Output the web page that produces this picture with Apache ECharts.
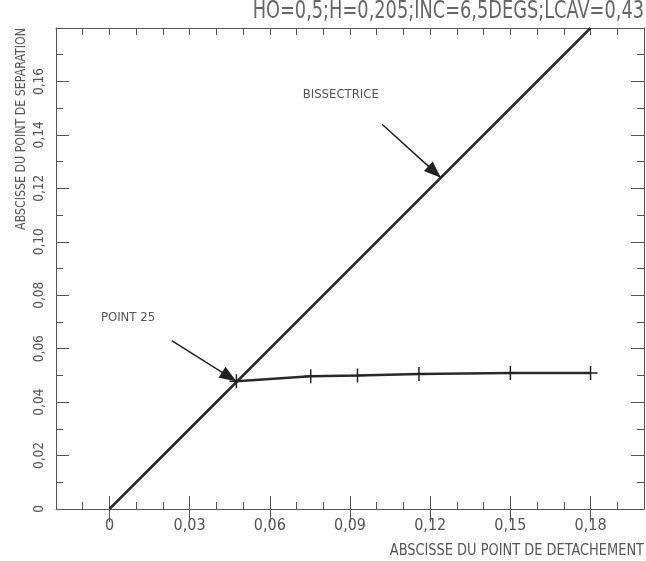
<!DOCTYPE html>
<html>
<head>
<meta charset="utf-8">
<script src="https://cdn.jsdelivr.net/npm/echarts@6/dist/echarts.min.js"></script>
<style>
  html, body { margin: 0; padding: 0; background: #fff; }
  #chart { width: 646px; height: 561px; }
</style>
</head>
<body>
<div id="chart"></div>
<script>
// valeurs
var xMajor = [0, 0.03, 0.06, 0.09, 0.12, 0.15, 0.18];
var bisX = [0, 0.18];
var bisY = [0, 0.18];
var sepX = [0.0475, 0.0753, 0.0928, 0.1158, 0.150, 0.180];
var sepY = [0.0478, 0.0497, 0.0500, 0.0505, 0.0509, 0.0509];
// annotations (coordonnees en unites du graphe)
var arrowBis = [[0.102, 0.144], [0.124, 0.124]];
var arrowPt = [[0.0233, 0.063], [0.0475, 0.0478]];
var labelBis = [0.0723, 0.1552];
var labelPt = [-0.0032, 0.0716];

var font = '"DejaVu Sans Condensed", "Liberation Sans Narrow", sans-serif';
var ink = '#555';

function fmt(v) {
    if (Math.abs(v) < 1e-9) return '0';
    return v.toFixed(2).replace('.', ',');
}

var mychart = echarts.init(document.getElementById('chart'));

var option = {
    animation: false,
    backgroundColor: '#fff',
    grid: {left: 56, right: 2, top: 28, bottom: 52},
    xAxis: [
        {
            type: 'value', position: 'bottom', min: -0.02, max: 0.2, interval: 0.01,
            axisLine: {show: true, onZero: false, lineStyle: {color: ink, width: 1}},
            axisTick: {inside: true, length: 7, lineStyle: {color: ink}},
            axisLabel: {
                customValues: xMajor, formatter: fmt, margin: 9,
                fontFamily: font, fontSize: 16, color: '#555'
            },
            splitLine: {show: false}
        },
        {
            type: 'value', position: 'bottom', min: -0.02, max: 0.2,
            axisLine: {show: false},
            axisTick: {inside: true, length: 13, customValues: xMajor, lineStyle: {color: ink}},
            axisLabel: {show: false},
            splitLine: {show: false}
        },
        {
            type: 'value', position: 'top', min: -0.02, max: 0.2, interval: 0.01,
            axisLine: {show: true, onZero: false, lineStyle: {color: ink, width: 1}},
            axisTick: {inside: true, length: 7, lineStyle: {color: ink}},
            axisLabel: {show: false},
            splitLine: {show: false}
        },
        {
            type: 'value', position: 'top', min: -0.02, max: 0.2,
            axisLine: {show: false},
            axisTick: {inside: true, length: 13, customValues: xMajor, lineStyle: {color: ink}},
            axisLabel: {show: false},
            splitLine: {show: false}
        }
    ],
    yAxis: [
        {
            type: 'value', position: 'left', min: 0, max: 0.18, interval: 0.02,
            axisLine: {show: true, onZero: false, lineStyle: {color: ink, width: 1}},
            axisTick: {inside: true, length: 13, lineStyle: {color: ink}},
            minorTick: {show: true, splitNumber: 2, length: 7, lineStyle: {color: ink}},
            axisLabel: {
                rotate: 90, margin: 10, showMaxLabel: false, formatter: fmt,
                fontFamily: font, fontSize: 13.5, color: '#555'
            },
            splitLine: {show: false}
        },
        {
            type: 'value', position: 'right', min: 0, max: 0.18, interval: 0.02,
            axisLine: {show: true, onZero: false, lineStyle: {color: ink, width: 1}},
            axisTick: {inside: true, length: 13, lineStyle: {color: ink}},
            minorTick: {show: true, splitNumber: 2, length: 7, lineStyle: {color: ink}},
            axisLabel: {show: false},
            splitLine: {show: false}
        }
    ],
    graphic: [
        {
            type: 'text', x: 644, y: 11, scaleX: 0.79,
            style: {
                text: 'HO=0,5;H=0,205;INC=6,5DEGS;LCAV=0,43', fontFamily: font, fontSize: 25,
                fill: '#666', align: 'right', verticalAlign: 'middle'
            }
        },
        {
            type: 'text', x: 644, y: 551, scaleX: 0.9,
            style: {
                text: 'ABSCISSE DU POINT DE DETACHEMENT', fontFamily: font, fontSize: 16, fill: '#555',
                align: 'right', verticalAlign: 'middle'
            }
        },
        {
            type: 'text', x: 21, y: 28, rotation: Math.PI / 2, scaleX: 0.91,
            style: {
                text: 'ABSCISSE DU POINT DE SEPARATION', fontFamily: font, fontSize: 13.5, fill: '#555',
                align: 'right', verticalAlign: 'middle'
            }
        }
    ],
    series: [
        {
            name: 'Bissectrice',
            type: 'line',
            data: bisX.map(function (x, i) { return [x, bisY[i]]; }),
            showSymbol: false,
            lineStyle: {color: '#2a2a2a', width: 2.5},
            silent: true,
            markLine: {
                silent: true,
                symbol: 'none',
                label: {show: false},
                itemStyle: {color: '#1a1a1a'},
                lineStyle: {color: '#222', width: 1.5, type: 'solid'},
                data: [
                    [{coord: arrowBis[0], symbol: 'none'},
                     {coord: arrowBis[1], symbol: 'triangle', symbolSize: [13, 17], symbolOffset: [0, 8.5]}],
                    [{coord: arrowPt[0], symbol: 'none'},
                     {coord: arrowPt[1], symbol: 'triangle', symbolSize: [13, 17], symbolOffset: [0, 8.5]}]
                ]
            },
            markPoint: {
                silent: true,
                symbol: 'circle',
                symbolSize: 0,
                label: {show: true, position: 'right', distance: 0, fontFamily: font, fontSize: 13, color: '#555'},
                data: [
                    {coord: labelBis, label: {formatter: 'BISSECTRICE'}},
                    {coord: labelPt, label: {formatter: 'POINT 25'}}
                ]
            }
        },
        {
            name: 'Separation',
            type: 'line',
            data: sepX.map(function (x, i) { return [x, sepY[i]]; }),
            symbol: 'path://M0,-1L0,1M-1,0L1,0',
            symbolSize: 14,
            showAllSymbol: true,
            itemStyle: {color: 'none', borderColor: '#222', borderWidth: 1.5},
            lineStyle: {color: '#2a2a2a', width: 2.5},
            silent: true
        }
    ]
};

mychart.setOption(option);
</script>
</body>
</html>
